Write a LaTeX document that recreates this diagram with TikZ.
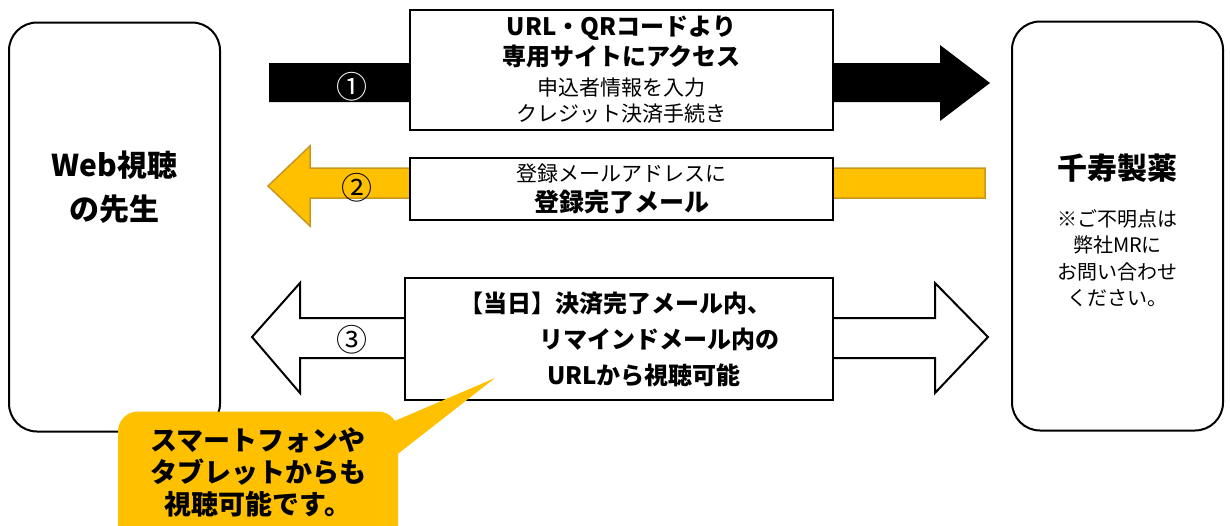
\documentclass[tikz,border=0pt]{standalone}
\usepackage{fontspec}
\setmainfont{Noto Sans CJK JP}
\definecolor{gold}{HTML}{FFC000}
\definecolor{golddark}{HTML}{C8961E}
\begin{document}
\begin{tikzpicture}[x=1pt,y=-1pt,
  party/.style={draw, line width=2pt, rounded corners=28pt, minimum width=211pt, minimum height=409pt, inner sep=0pt},
  msgbox/.style={draw, line width=2pt, fill=white, inner sep=0pt, align=center},
  num/.style={font=\fontsize{31}{31}\selectfont, inner sep=0pt},
  bigtxt/.style={font=\bfseries\fontsize{30}{44}\selectfont, align=center, inner sep=0pt},
  calltxt/.style={font=\bfseries\fontsize{27}{32}\selectfont, align=center, inner sep=0pt}]
\useasboundingbox (0,0) rectangle (1230,525);
% parties
\node[party] (doc) at (114.5,227) {};
\node[bigtxt] (doct) at (114.5,187) {Web視聴\\の先生};
\node[party] (chj) at (1117.5,226) {};
\node[bigtxt] (chjt) at (1117.5,168) {千寿製薬};
\node[font=\fontsize{20}{26.5}\selectfont, align=center, inner sep=0pt] (chjn) at (1117.5,258) {※ご不明点は\\弊社MRに\\お問い合わせ\\ください。};
% arrow 1 (black, to the right)
\fill[black] (269,63) -- (940,63) -- (940,45) -- (990,83) -- (940,121) -- (940,102) -- (269,102) -- cycle;
\node[num, text=white] (n1) at (352,87) {①};
\node[msgbox, minimum width=423pt, minimum height=120pt, font=\fontsize{21}{30}\selectfont] (m1) at (621.5,70)
  {{\bfseries\fontsize{24}{30}\selectfont URL・QRコードより}\\
   {\bfseries\fontsize{24}{30}\selectfont 専用サイトにアクセス}\\
   申込者情報を入力\\[-4pt]
   クレジット決済手続き};
% arrow 2 (gold, to the left)
\filldraw[fill=gold, draw=golddark, line width=1.5pt] (985,168) -- (310,168) -- (310,146) -- (268,186) -- (310,226) -- (310,198) -- (985,198) -- cycle;
\node[num] (n2) at (357,188) {②};
\node[msgbox, minimum width=423pt, minimum height=62pt, font=\fontsize{21}{30}\selectfont] (m2) at (621.5,189)
  {登録メールアドレスに\\
   {\bfseries\fontsize{25}{30}\selectfont 登録完了メール}};
% arrow 3 (white, both ways)
\filldraw[fill=white, draw=black, line width=2pt] (252,337) -- (300,283) -- (300,318) -- (935,318) -- (935,283) -- (988,337) -- (935,393) -- (935,358) -- (300,358) -- (300,393) -- cycle;
\node[num] (n3) at (352,340) {③};
\node[msgbox, minimum width=428pt, minimum height=122pt, align=left, font=\bfseries\fontsize{24}{36}\selectfont] (m3) at (619,339)
  {【当日】決済完了メール内、\\
   \hspace*{80pt}リマインドメール内の\\
   \hspace*{88pt}URLから視聴可能};
% callout
\begin{scope}
\clip (0,0) rectangle (1230,525);
\coordinate (tip) at (495,378);
\coordinate (pa) at (390,423);
\coordinate (pb) at (390,460);
\node[fill=gold, rounded corners=20pt, minimum width=280pt, minimum height=135pt, inner sep=0pt] (call) at (258,479) {};
\fill[gold] (pa) -- (tip) -- (pb) -- cycle;
\node[calltxt] (callt) at (258,472) {スマートフォンや\\タブレットからも\\視聴可能です。};
\end{scope}
\end{tikzpicture}
\end{document}
